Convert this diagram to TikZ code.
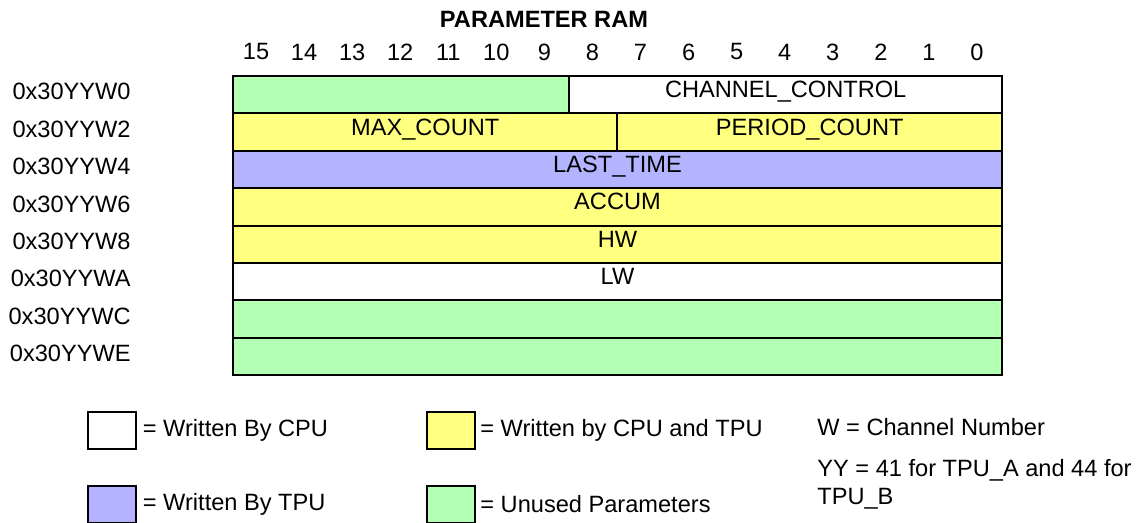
\documentclass[tikz,border=0pt]{standalone}
\usepackage{fontspec}
\setmainfont{Liberation Sans}
\usetikzlibrary{positioning}
\definecolor{ramgreen}{HTML}{B3FFB3}
\definecolor{ramyellow}{HTML}{FFFF80}
\definecolor{rampurple}{HTML}{B3B3FF}
\newcommand\ramfont{\fontsize{11.8}{14.5}\selectfont}
\tikzset{
  fld/.style  = {rectangle, draw=black, line width=1pt, inner sep=0pt,
                 minimum height=18.7pt, anchor=north west, font=\ramfont,
                 text height=0.75em, text depth=0.45em},
  key/.style  = {rectangle, draw=black, line width=1pt, inner sep=0pt,
                 minimum width=24pt, minimum height=18.7pt},
  txt/.style  = {font=\ramfont, inner sep=0pt},
}

\begin{document}
\begin{tikzpicture}[x=0.5pt, y=-0.5pt]
  \useasboundingbox (0,0) rectangle (1140,523);
  \clip (0,0) rectangle (1140,523);

  \def\RamL{232}     % left edge of the register table
  \def\RamT{75}      % top edge of the register table
  % title and bit numbers
  \node[txt, font=\ramfont\bfseries] (title) at (544,19) {PARAMETER RAM};
  \foreach \b in {0,...,15}
     \node[txt] (bit\b) at ({\RamL+(15.5-\b)*48.06},52) {\b};

  % ---- parameter words -----------------------------------------------------
  \foreach \r/\a/\w/\col/\nm/\name in {%
      0/0/7/ramgreen/unused0/{},
      0/7/9/white/chctl/{CHANNEL\_CONTROL},
      1/0/8/ramyellow/maxcnt/{MAX\_COUNT},
      1/8/8/ramyellow/percnt/{PERIOD\_COUNT},
      2/0/16/rampurple/lasttime/{LAST\_TIME},
      3/0/16/ramyellow/accum/{ACCUM},
      4/0/16/ramyellow/hw/{HW},
      5/0/16/white/lw/{LW},
      6/0/16/ramgreen/unusedC/{},
      7/0/16/ramgreen/unusedE/{}} {
     \node[fld, fill=\col, minimum width={\w*24.03pt}] (\nm)
        at ({\RamL+\a*48.06},{\RamT+\r*37.4}) {\name};
  }
  \foreach \r/\n in {0/0,1/2,2/4,3/6,4/8,5/A,6/C,7/E}
     \node[txt, anchor=east] (addr\n) at (131,{\RamT+18.7+\r*37.4-2}) {0x30YYW\n};

  % ---- legend --------------------------------------------------------------
  \node[key, fill=white]     (kcpu)  at (111.5,430.5) {};
  \node[txt, right=3pt of kcpu]  (lcpu)  {= Written By CPU};
  \node[key, fill=ramyellow] (kboth) at (451,430.5) {};
  \node[txt, right=2pt of kboth] (lboth) {= Written by CPU and TPU};
  \node[key, fill=rampurple] (ktpu)  at (111.5,504.5) {};
  \node[txt, right=3pt of ktpu]  (ltpu)  {= Written By TPU};
  \node[key, fill=ramgreen]  (kfree) at (451,504.5) {};
  \node[txt, right=2pt of kfree] (lfree) {= Unused Parameters};
  \node[txt, anchor=west] (wnote)  at (817,427) {W = Channel Number};
  \node[txt, anchor=west] (yynote) at (817,470) {YY = 41 for TPU\_A and 44 for};
  \node[txt, anchor=west] (yymore) at (817,499) {TPU\_B};
\end{tikzpicture}
\end{document}
